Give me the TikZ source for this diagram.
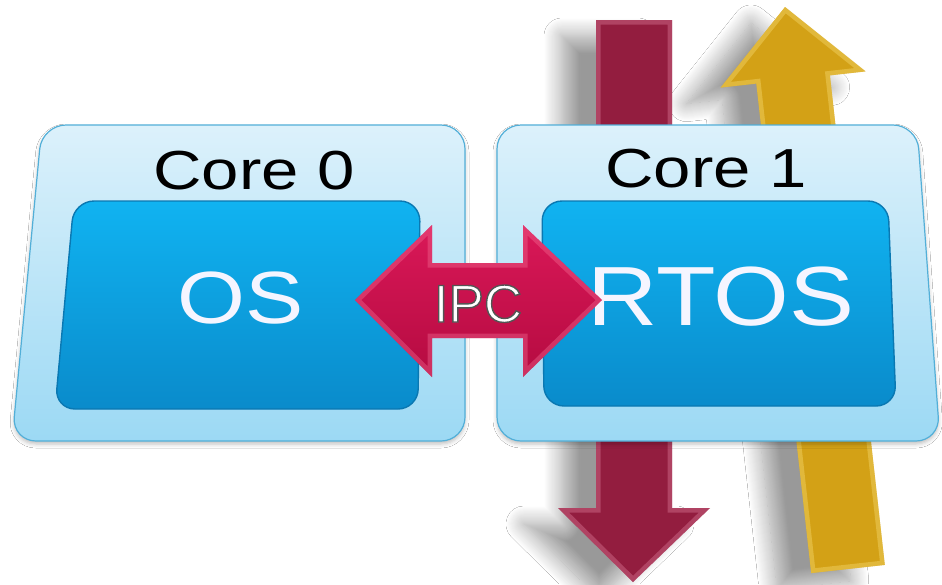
\documentclass[tikz,border=0pt]{standalone}
\usepackage{fontspec}
\setmainfont{Liberation Sans}
\usetikzlibrary{shadows.blur}

\definecolor{boxtop}{HTML}{DCF1FB}
\definecolor{boxbot}{HTML}{9CD9F4}
\definecolor{boxline}{HTML}{52AFD8}
\definecolor{innertop}{HTML}{10B3F1}
\definecolor{innerbot}{HTML}{0A8BCB}
\definecolor{innerline}{HTML}{0A78B2}
\definecolor{ipctop}{HTML}{DA1858}
\definecolor{ipcbot}{HTML}{B50B41}
\definecolor{ipclight}{HTML}{F26A92}
\definecolor{downred}{HTML}{931D3F}
\definecolor{downlight}{HTML}{DC7C9A}
\definecolor{upgold}{HTML}{D3A116}
\definecolor{uplight}{HTML}{F7DC74}

% white letters stroked with a thin grey outline (PDF text render mode 2)
\makeatletter
\newcommand\outlinedtext[1]{%
  \pgfsys@invoke{2 Tr 1.4 w 0.33 0.33 0.33 RG}#1\pgfsys@invoke{0 Tr}}
\makeatother

% outlines of the shapes (y grows downwards)
\def\goldpath{(785,7) -- (865.6,71.4) -- (829.9,75.4) -- (884.8,564.9) -- (811.2,573.1) -- (756.3,83.6) -- (720.6,87.6) -- cycle}
\def\downpath{(596,20) -- (672,20) -- (672,508) -- (710,508) -- (633,582) -- (558,508) -- (596,508) -- cycle}
\def\ipcpath{(355,300) -- (432,225) -- (432,263) -- (523,263) -- (523,225) -- (602,300) -- (523,377) -- (523,338) -- (432,338) -- (432,377) -- cycle}
\def\coreAouter{(42,125) -- (465,125) -- (465,441) -- (12,441) -- cycle}
\def\coreBouter{(497,125) -- (917,125) -- (940,441) -- (497,441) -- cycle}
\def\coreAinner{(74,201) -- (420,201) -- (418,409) -- (55,409) -- cycle}
\def\coreBinner{(542,201) -- (888,201) -- (896,406) -- (544,406) -- cycle}

\tikzset{
  outerbox/.style={draw=boxline, line width=1.2pt, rounded corners=24pt,
    top color=boxtop, bottom color=boxbot,
    blur shadow={shadow xshift=0pt, shadow yshift=-3pt, shadow blur radius=4pt, shadow opacity=25}},
  innerbox/.style={draw=innerline, line width=1.4pt, rounded corners=20pt,
    top color=innertop, bottom color=innerbot},
  bigarrowshadow/.style={blur shadow={shadow xshift=-34pt, shadow yshift=-16pt,
    shadow blur radius=18pt, shadow blur steps=18, shadow opacity=40}},
  bevel/.style={line width=9pt, opacity=.4, line join=miter},
  corelabel/.style={font=\fontsize{55}{60}\selectfont, text=black, anchor=base, xscale=1.22, inner sep=0pt},
  oslabel/.style={text=white!96!blue, anchor=base, inner sep=0pt},
}

\begin{document}
\begin{tikzpicture}[x=1pt, y=-1pt]
\useasboundingbox (0,0) rectangle (942,584);
\fill[white] (0,0) rectangle (942,584);

% data streams passing through core 1
\fill[upgold, bigarrowshadow] \goldpath;
\begin{scope}
  \clip \goldpath;
  \draw[uplight, bevel] \goldpath;
\end{scope}
\fill[downred, bigarrowshadow] \downpath;
\begin{scope}
  \clip \downpath;
  \draw[downlight, bevel] \downpath;
\end{scope}

% the two cores
\path[outerbox] \coreAouter;
\path[outerbox] \coreBouter;
\path[innerbox] \coreAinner;
\path[innerbox] \coreBinner;

\node[corelabel] (core0) at (254,189) {Core 0};
\node[corelabel] (core1) at (706,187) {Core 1};
\node[oslabel, font=\fontsize{74}{80}\selectfont, xscale=1.18] (os) at (241,323) {OS};
\node[oslabel, font=\fontsize{84}{90}\selectfont, xscale=1.16] (rtos) at (721,325) {RTOS};

% inter-processor communication
\path[top color=ipctop, bottom color=ipcbot] \ipcpath;
\begin{scope}
  \clip \ipcpath;
  \draw[ipclight, bevel] \ipcpath;
\end{scope}
\node[font=\fontsize{53}{58}\selectfont, text=white, anchor=base, inner sep=0pt] (ipc) at (478,322) {\outlinedtext{IPC}};
\end{tikzpicture}
\end{document}
